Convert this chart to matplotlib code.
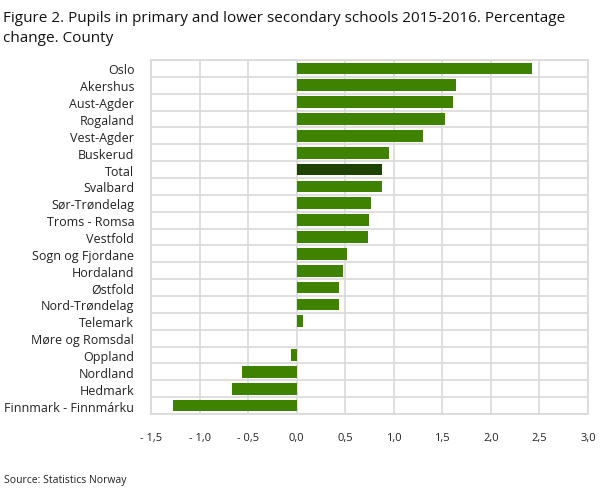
import matplotlib
matplotlib.use("Agg")
import matplotlib.pyplot as plt
import numpy as np

plt.rcParams['font.family'] = ['Open Sans', 'DejaVu Sans']

counties = ["Oslo", "Akershus", "Aust-Agder", "Rogaland", "Vest-Agder", "Buskerud",
            "Total", "Svalbard", "Sør-Trøndelag", "Troms - Romsa", "Vestfold",
            "Sogn og Fjordane", "Hordaland", "Østfold", "Nord-Trøndelag", "Telemark",
            "Møre og Romsdal", "Oppland", "Nordland", "Hedmark", "Finnmark - Finnmárku"]
change = [2.42, 1.64, 1.61, 1.53, 1.30, 0.95,
          0.88, 0.88, 0.77, 0.74, 0.73,
          0.52, 0.48, 0.44, 0.44, 0.06,
          0.0, -0.06, -0.56, -0.67, -1.27]
xticks = [-1.5, -1.0, -0.5, 0.0, 0.5, 1.0, 1.5, 2.0, 2.5, 3.0]

green = "#3f8200"
dark = "#1e4300"
grid = "#d9d9d9"

fig = plt.figure(figsize=(6.09, 4.89), dpi=100)
ax = fig.add_axes([0.248, 0.1513, 0.7175, 0.724])

y = np.arange(len(counties))
colors = [dark if c == "Total" else green for c in counties]
ax.barh(y, change, height=0.7, color=colors, zorder=3)

ax.set_ylim(len(counties) - 0.5, -0.5)
ax.set_xlim(-1.5, 3.0)
ax.set_yticks(y)
ax.set_yticklabels(counties, fontsize=9, color="#222222")
ax.set_xticks(xticks)
labels = []
for t in xticks:
    s = "%.1f" % abs(t)
    s = s.replace(".", ",")
    if t < 0:
        s = "- " + s
    labels.append(s)
ax.set_xticklabels(labels, fontsize=8, color="#222222")
ax.tick_params(axis="both", length=0)
ax.tick_params(axis="x", pad=13)
ax.tick_params(axis="y", pad=12)

# grid lines between categories and at ticks
ax.set_yticks(np.arange(len(counties) + 1) - 0.5, minor=True)
ax.grid(True, which="minor", axis="y", color=grid, linewidth=1.2, zorder=0)
ax.grid(True, which="major", axis="x", color=grid, linewidth=1.2, zorder=0)
ax.tick_params(which="minor", length=0)
for sp in ax.spines.values():
    sp.set_color(grid)
    sp.set_linewidth(1.2)

fig.text(0.005, 0.978, "Figure 2. Pupils in primary and lower secondary schools 2015-2016. Percentage\nchange. County",
         fontsize=11, va="top", ha="left", color="#111111", linespacing=1.45)
fig.text(0.007, 0.018, "Source: Statistics Norway", fontsize=7.5, color="#222222", va="center")

fig.savefig("out.png", dpi=100)
